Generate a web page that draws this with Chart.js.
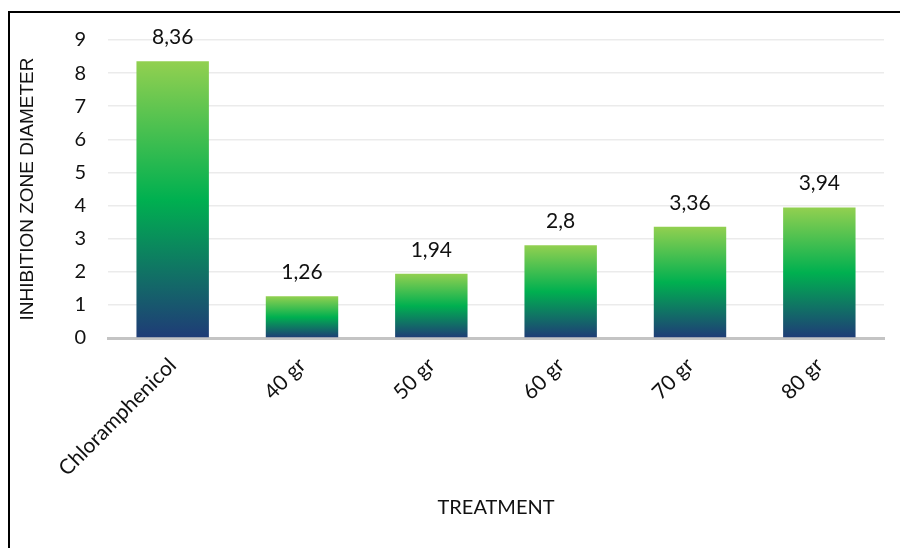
<!DOCTYPE html>
<html>
<head>
<meta charset="utf-8">
<script src="https://cdn.jsdelivr.net/npm/chart.js@4.4.1/dist/chart.umd.min.js"></script>
<style>
  html, body { margin: 0; padding: 0; background: #fff; }
  #wrap { position: relative; width: 900px; height: 548px; overflow: hidden; }
  #frame { position: absolute; left: 8px; top: 11px; width: 1000px; height: 1000px;
           border-left: 2px solid #000; border-top: 2px solid #000; pointer-events: none; }
  canvas { position: absolute; left: 0; top: 0; }
</style>
</head>
<body>
<div id="wrap">
  <canvas id="chart" width="900" height="548"></canvas>
  <div id="frame"></div>
</div>
<script>
// Inhibition zone diameter per treatment
const categories = ['Chloramphenicol', '40 gr', '50 gr', '60 gr', '70 gr', '80 gr'];
const diameters = [8.36, 1.26, 1.94, 2.8, 3.36, 3.94];
const yTicks = [0, 1, 2, 3, 4, 5, 6, 7, 8, 9];

const BODY_FONT = 'Lato, "Open Sans", sans-serif';
const TITLE_FONT = '"Liberation Sans", Arial, sans-serif';

// Vertical gradient spanning each bar from its top down to the baseline
function barGradient(context) {
  const chart = context.chart;
  const { ctx, chartArea, scales } = chart;
  if (!chartArea || context.type !== 'data') return '#00b050';
  const value = context.raw;
  const top = scales.y.getPixelForValue(value);
  const base = scales.y.getPixelForValue(0);
  const g = ctx.createLinearGradient(0, top, 0, base);
  g.addColorStop(0, '#92d050');
  g.addColorStop(0.5, '#00b050');
  g.addColorStop(1, '#1f3b77');
  return g;
}

// Value labels above the bars, with a decimal comma
const valueLabels = {
  id: 'valueLabels',
  afterDatasetsDraw(chart) {
    const { ctx } = chart;
    const meta = chart.getDatasetMeta(0);
    ctx.save();
    ctx.font = '21px ' + BODY_FONT;
    ctx.fillStyle = '#111';
    ctx.textAlign = 'center';
    ctx.textBaseline = 'middle';
    meta.data.forEach((bar, i) => {
      const text = String(diameters[i]).replace('.', ',');
      ctx.fillText(text, bar.x, bar.y - 24);
    });
    ctx.restore();
  }
};

new Chart(document.getElementById('chart'), {
  type: 'bar',
  data: {
    labels: categories,
    datasets: [{
      data: diameters,
      backgroundColor: barGradient,
      borderWidth: 0,
      categoryPercentage: 1,
      barPercentage: 0.56
    }]
  },
  options: {
    responsive: false,
    animation: false,
    events: [],
    layout: { padding: { left: 10, right: 16, top: 40, bottom: 0 } },
    plugins: {
      legend: { display: false },
      tooltip: { enabled: false }
    },
    scales: {
      x: {
        grid: { display: false, drawTicks: false },
        border: { display: true, color: '#c4c4c4', width: 3 },
        ticks: {
          color: '#111',
          font: { family: BODY_FONT, size: 21 },
          minRotation: 45,
          maxRotation: 45,
          padding: 15,
          autoSkip: false
        },
        title: {
          display: true,
          text: 'TREATMENT',
          color: '#111',
          font: { family: BODY_FONT, size: 20 },
          padding: { top: 0, bottom: 28 }
        },
        afterFit(scale) { scale.height = 210; }
      },
      y: {
        min: 0,
        max: 9,
        afterBuildTicks(scale) { scale.ticks = yTicks.map(v => ({ value: v })); },
        grid: { color: '#ebebeb', lineWidth: 1.5, drawTicks: false },
        border: { display: false },
        ticks: {
          color: '#111',
          font: { family: BODY_FONT, size: 20 },
          padding: 22
        },
        title: {
          display: true,
          text: 'INHIBITION ZONE DIAMETER',
          color: '#111',
          font: { family: TITLE_FONT, size: 19 },
          padding: { top: 6, bottom: 0 }
        },
        afterFit(scale) { scale.width = 98; }
      }
    }
  },
  plugins: [valueLabels]
});
</script>
</body>
</html>
